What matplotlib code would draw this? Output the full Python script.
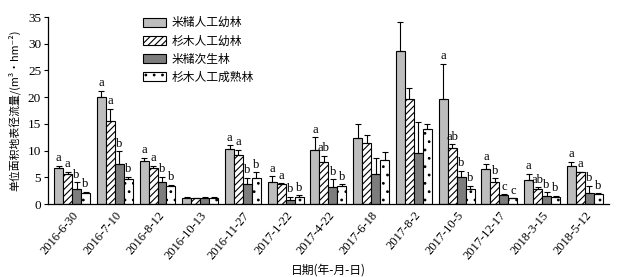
import matplotlib
matplotlib.use("Agg")
import matplotlib.pyplot as plt
import numpy as np

plt.rcParams['font.family'] = ['Liberation Serif', 'Noto Sans CJK SC']
plt.rcParams['hatch.linewidth'] = 0.8

dates = ["2016-6-30", "2016-7-10", "2016-8-12", "2016-10-13", "2016-11-27", "2017-1-22",
         "2017-4-22", "2017-6-18", "2017-8-2", "2017-10-5", "2017-12-17", "2018-3-15", "2018-5-12"]
series_names = ["米槠人工幼林", "杉木人工幼林", "米槠次生林", "杉木人工成熟林"]

mizhu_young = [6.7, 20.0, 8.0, 1.2, 10.3, 4.1, 10.1, 12.3, 28.6, 19.7, 6.55, 4.5, 7.2]
mizhu_young_err = [0.5, 1.2, 0.7, 0.1, 0.7, 1.1, 2.4, 2.6, 5.5, 6.6, 0.85, 1.1, 0.7]
shan_young = [5.6, 15.6, 6.8, 1.1, 9.2, 3.7, 7.8, 11.4, 19.6, 10.4, 4.1, 2.9, 5.9]
shan_young_err = [0.4, 2.2, 0.3, 0.1, 1.0, 0.2, 1.2, 1.5, 2.1, 0.8, 0.7, 0.2, 0.1]
mizhu_second = [2.75, 7.5, 4.2, 1.1, 3.7, 0.75, 3.1, 5.7, 9.5, 5.0, 1.7, 1.5, 2.0]
mizhu_second_err = [1.35, 2.4, 0.9, 0.3, 1.2, 0.65, 1.5, 3.0, 5.9, 1.2, 0.1, 0.7, 1.4]
shan_mature = [2.1, 4.6, 3.4, 1.2, 4.8, 1.4, 3.4, 8.2, 14.0, 2.75, 1.05, 1.3, 1.8]
shan_mature_err = [0.2, 0.5, 0.2, 0.1, 1.1, 0.2, 0.3, 1.5, 1.0, 0.65, 0.05, 0.2, 0.2]

sig_mizhu_young = ["a", "a", "a", "", "a", "a", "a", "", "", "a", "a", "a", "a"]
sig_shan_young = ["a", "a", "a", "", "a", "a", "ab", "", "", "ab", "b", "ab", "a"]
sig_mizhu_second = ["b", "b", "b", "", "b", "b", "b", "", "", "b", "c", "b", "b"]
sig_shan_mature = ["b", "b", "b", "", "b", "b", "b", "", "", "b", "c", "b", "b"]

values = [mizhu_young, shan_young, mizhu_second, shan_mature]
errors = [mizhu_young_err, shan_young_err, mizhu_second_err, shan_mature_err]
sigs = [sig_mizhu_young, sig_shan_young, sig_mizhu_second, sig_shan_mature]
colors = ["#bdbdbd", "white", "#7d7d7d", "white"]
hatches = ["", "/////", "", ".."]

cjk = ["Noto Sans CJK SC", "DejaVu Sans"]

fig = plt.figure(figsize=(6.25, 2.77), dpi=100)
ax = fig.add_axes([0.077, 0.2635, 0.897, 0.675])

x = np.arange(len(dates))
w = 0.21
for i in range(4):
    pos = x + (i - 1.5) * w
    ax.bar(pos, values[i], width=w, color=colors[i], edgecolor="black", linewidth=0.8,
           hatch=hatches[i], label=series_names[i], zorder=2)
    ax.errorbar(pos, values[i], yerr=[np.zeros(len(dates)), errors[i]], fmt="none",
                ecolor="black", elinewidth=0.8, capsize=2.5, capthick=0.8, zorder=3)
    for p, v, e, s in zip(pos, values[i], errors[i], sigs[i]):
        if s:
            ax.text(p, v + e + 0.3, s, ha="center", va="bottom", fontsize=9,
                    family="Liberation Serif")

ax.set_xlim(-0.56, len(dates) - 0.44)
ax.set_ylim(0, 35)
ax.set_yticks(np.arange(0, 36, 5))
ax.set_xticks(x)
ax.set_xticklabels(dates, rotation=50, ha="right", rotation_mode="anchor", fontsize=9)
ax.tick_params(axis="x", length=0, pad=4)
ax.tick_params(axis="y", direction="out", length=3, labelsize=9.5, pad=2)
for sp in ["top", "right"]:
    ax.spines[sp].set_visible(False)
ax.spines["left"].set_linewidth(0.9)
ax.spines["bottom"].set_linewidth(0.9)

ax.set_ylabel("单位面积地表径流量/(m³·hm⁻²)", fontsize=7.8, family=cjk, labelpad=5)
ax.set_xlabel("日期(年-月-日)", fontsize=8.5, family=cjk, labelpad=1)

leg = ax.legend(loc="upper left", bbox_to_anchor=(0.16, 1.03), frameon=False,
                prop={"family": cjk, "size": 8.5},
                handlelength=2.0, handleheight=0.8, handletextpad=0.5, labelspacing=0.45,
                borderaxespad=0)

fig.savefig("out.png", dpi=100)
